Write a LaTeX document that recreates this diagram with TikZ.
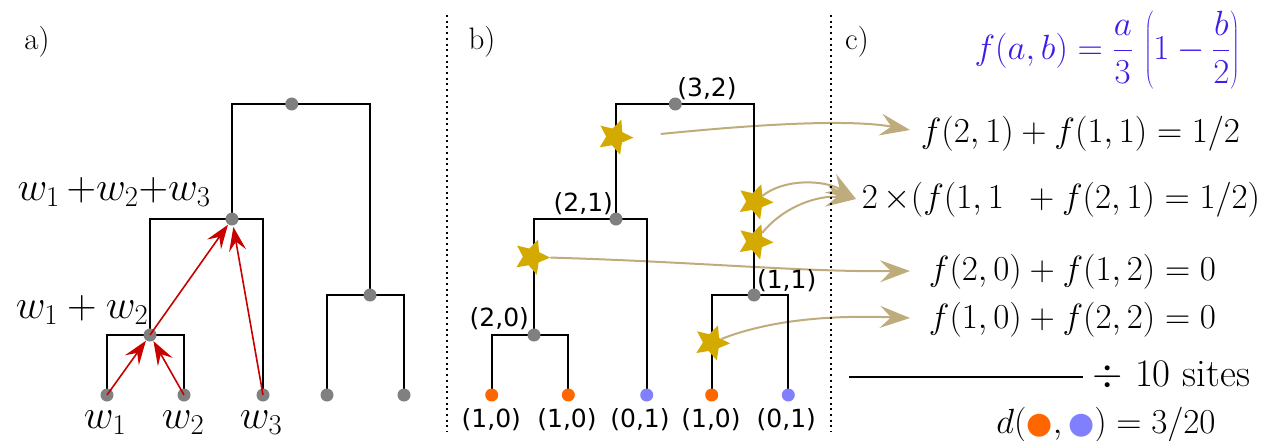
\RequirePackage{fix-cm}
\documentclass[tikz,border=0pt]{standalone}
\usepackage{fontspec}
\newfontfamily\djv{DejaVu Sans}
\usetikzlibrary{shapes.geometric,arrows.meta}
\definecolor{dotgray}{RGB}{128,128,128}
\definecolor{leaforange}{RGB}{255,102,0}
\definecolor{leafblue}{RGB}{128,128,255}
\definecolor{starGold}{RGB}{212,170,0}
\definecolor{khakiC}{RGB}{190,172,125}
\definecolor{arrowred}{RGB}{200,0,0}
\definecolor{fblue}{RGB}{60,30,235}
\pgfdeclarelayer{bg}
\pgfsetlayers{bg,main}
\begin{document}
\begin{tikzpicture}[x=1pt,y=-1pt,
  tree/.style={line width=2pt,black},
  gdot/.style={circle,fill=dotgray,inner sep=0pt,minimum size=13pt},
  odot/.style={circle,fill=leaforange,inner sep=0pt,minimum size=13pt},
  bdot/.style={circle,fill=leafblue,inner sep=0pt,minimum size=13pt},
  redarr/.style={draw=arrowred,line width=1.6pt,-{Stealth[length=24pt,width=17pt,inset=9pt]}},
  khakiarr/.style={draw=khakiC,line width=2pt,-{Stealth[length=30pt,width=22pt,inset=11pt]}},
  starnode/.style={star,star points=5,star point ratio=2.1,fill=starGold,inner sep=0pt,minimum size=37pt,rotate=-20},
  sepline/.style={line width=2pt,dash pattern=on 2pt off 3.7pt},
  panel/.style={font=\fontsize{31}{36}\selectfont,anchor=base,inner sep=0pt},
  wlab/.style={font=\fontsize{41}{46}\selectfont,anchor=base,inner sep=0pt},
  slab/.style={font=\djv\fontsize{25}{30}\selectfont,anchor=base,inner sep=0pt},
  eq/.style={font=\fontsize{35}{40}\selectfont,anchor=base,inner sep=0pt}
]
\useasboundingbox (0,0) rectangle (1262,440);

% separators
\draw[sepline] (447,15) -- (447,432);
\draw[sepline] (831,15) -- (831,432);

% panel labels
\node[panel] (pa) at (37,49) {a)};
\node[panel] (pb) at (482,49) {b)};
\node[panel] (pc) at (857,49) {c)};

% ---------- panel a ----------
\coordinate (A0) at (291.7,104);
\coordinate (A1) at (232,219);
\coordinate (A2) at (370,295);
\coordinate (A3) at (150,335);
\coordinate (L1) at (107,395);
\coordinate (L2) at (184,395);
\coordinate (L3) at (263,395);
\coordinate (L4) at (327,395);
\coordinate (L5) at (404,395);
\draw[tree] (A1) |- (A0) -| (A2);
\draw[tree] (A3) |- (A1) -| (L3);
\draw[tree] (L1) |- (A3) -| (L2);
\draw[tree] (L4) |- (A2) -| (L5);
\foreach \n in {A0,A1,A2,A3,L1,L2,L3,L4,L5} \node[gdot] (d\n) at (\n) {};
\draw[redarr,shorten >=7pt] (L1) -- (A3);
\draw[redarr,shorten >=7pt] (L2) -- (A3);
\draw[redarr,shorten >=7pt] (A3) -- (A1);
\draw[redarr,shorten >=8pt] (L3) -- (A1);
\node[wlab] (w123) at (114,200) {$w_1\mkern3mu{+}w_2{+}w_3$};
\node[wlab] (w12) at (82,318) {$w_1+w_2$};
\node[wlab] (w1) at (105,428) {$w_1$};
\node[wlab] (w2) at (183,428) {$w_2$};
\node[wlab] (w3) at (261,428) {$w_3$};

% ---------- panel b ----------
\coordinate (B0) at (675.3,104);
\coordinate (B1) at (616,219);
\coordinate (B2) at (754,295);
\coordinate (B3) at (534,335);
\coordinate (M1) at (491.7,395);
\coordinate (M2) at (568.3,395);
\coordinate (M3) at (646.7,395);
\coordinate (M4) at (711.7,395);
\coordinate (M5) at (788.3,395);
\draw[tree] (B1) |- (B0) -| (B2);
\draw[tree] (B3) |- (B1) -| (M3);
\draw[tree] (M1) |- (B3) -| (M2);
\draw[tree] (M4) |- (B2) -| (M5);
\foreach \n in {B0,B1,B2,B3} \node[gdot] (d\n) at (\n) {};
\node[odot] (dM1) at (M1) {};
\node[odot] (dM2) at (M2) {};
\node[bdot] (dM3) at (M3) {};
\node[odot] (dM4) at (M4) {};
\node[bdot] (dM5) at (M5) {};
\node[slab] (l32) at (707,96.7) {(3,2)};
\node[slab] (l21) at (583.3,211.7) {(2,1)};
\node[slab] (l20) at (499.3,326.7) {(2,0)};
\node[slab] (l11) at (786.7,288.3) {(1,1)};
\node[slab] (lm1) at (491.3,427) {(1,0)};
\node[slab] (lm2) at (567,427) {(1,0)};
\node[slab] (lm3) at (640,427) {(0,1)};
\node[slab] (lm4) at (711,427) {(1,0)};
\node[slab] (lm5) at (786.3,427) {(0,1)};

% ---------- panel c ----------
\node[eq,anchor=center,text=fblue] (fdef) at (1107,50) {$\displaystyle f(a,b)=\frac{a}{3}\,\left(\vrule height 49pt depth 31pt width 0pt 1-\frac{b}{2}\right)$};
\node[eq] (r1) at (1080.5,142) {$f(2,1)+f(1,1)=1/2$};
\node[eq] (r2) at (1061,208) {$2\,{\times}(f(1,1\enspace+f(2,1)=1/2)$};
\node[eq] (r3) at (1072.5,280) {$f(2,0)+f(1,2)=0$};
\node[eq] (r4) at (1072.5,328) {$f(1,0)+f(2,2)=0$};
\coordinate (lineL) at (849,376.7);
\coordinate (lineR) at (1083,376.7);
\draw[line width=2pt] (lineL) -- (lineR);
\node[eq,font=\fontsize{39}{44}\selectfont] (div) at (1171.5,386.7) {$\div$ 10 sites};
\node[eq] (dres) at (1106,433) {$d(\mbox{\djv\fontsize{30}{34}\selectfont\textcolor{leaforange}{●}},\mbox{\djv\fontsize{30}{34}\selectfont\textcolor{leafblue}{●}})=3/20$};

% khaki arrows
\coordinate (k1s) at (660.7,134);
\coordinate (k1e) at (910,130);
\coordinate (k2e) at (856,199);
\coordinate (k4e) at (910,271);
\coordinate (k5e) at (910,318);
\node[starnode] (S1) at (615,137) {};
\node[starnode] (S2) at (531.7,257) {};
\node[starnode] (S3) at (755,201.7) {};
\node[starnode] (S4) at (755,241.7) {};
\node[starnode] (S5) at (711.7,342.7) {};
\begin{pgfonlayer}{bg}
\draw[khakiarr] (k1s) .. controls (760,124) and (850,119) .. (k1e);
\draw[khakiarr] (S3) .. controls (785,178) and (825,180) .. (k2e);
\draw[khakiarr] (S4) .. controls (785,205) and (820,195) .. (k2e);
\draw[khakiarr] (S2) .. controls (700,262) and (800,272) .. (k4e);
\draw[khakiarr] (S5) .. controls (770,320) and (830,315) .. (k5e);
\end{pgfonlayer}
\end{tikzpicture}
\end{document}
